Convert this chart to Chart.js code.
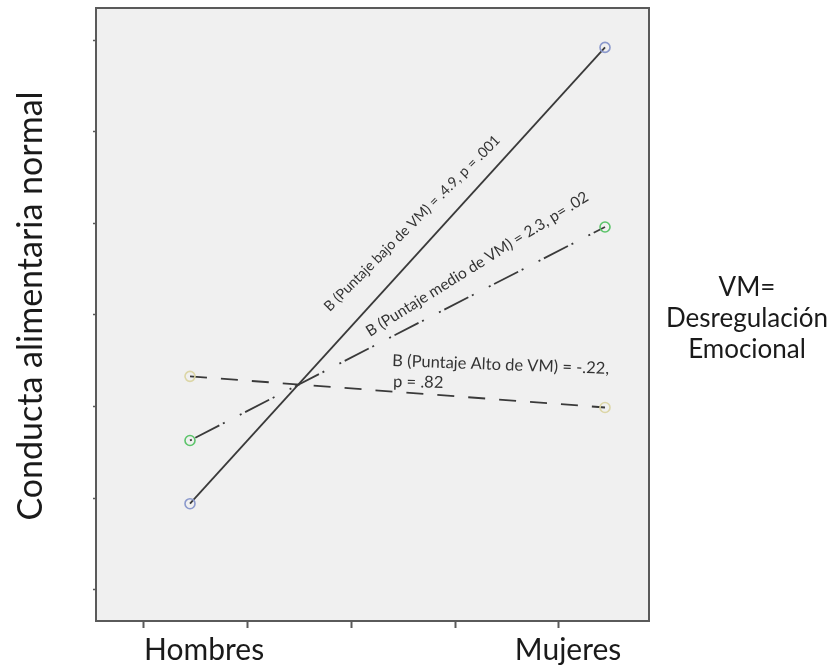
<!DOCTYPE html>
<html>
<head>
<meta charset="utf-8">
<script src="https://cdn.jsdelivr.net/npm/chart.js@4.4.1/dist/chart.umd.min.js"></script>
<style>
  html, body { margin: 0; padding: 0; background: #ffffff; }
  #wrap { width: 834px; height: 666px; }
</style>
</head>
<body>
<div id="wrap"><canvas id="c" width="834" height="666"></canvas></div>
<script>
// Groups on the horizontal axis and where each sits on the linear x scale
const sexes = ['Hombres', 'Mujeres'];
const sexPositions = [1, 2];
const sexLabelPositions = [1.034, 1.911];
const xTickMarks = [0.889, 1.139, 1.389, 1.639, 1.889];

// Mean "conducta alimentaria normal" per level of VM (Hombres, Mujeres)
const bajoVM = [9.94, 14.92];
const medioVM = [10.63, 12.96];
const altoVM = [11.33, 10.99];

// Unlabelled y tick marks
const yTickMarks = [9, 10, 11, 12, 13, 14, 15];

const points = vals => sexPositions.map((x, i) => ({ x, y: vals[i] }));

// Slope annotations, placed in data coordinates
const notes = [
  { text: 'B (Puntaje bajo de VM) = .4.9, p = .001', x: 1.337, y: 12.03, angle: -45, size: 14.3 },
  { text: 'B (Puntaje medio de VM) = 2.3, p= .02', x: 1.434, y: 11.76, angle: -32, size: 15.5 },
  { text: 'B (Puntaje Alto de VM) = -.22,', x: 1.487, y: 11.443, angle: 2.1, size: 16.5 },
  { text: 'p = .82', x: 1.489, y: 11.214, angle: 1, size: 16.5 }
];

const sideText = ['VM=', 'Desregulación', 'Emocional'];

const FONT = 'Lato, "Open Sans", sans-serif';

const plotBackground = {
  id: 'plotBackground',
  beforeDraw(chart) {
    const { ctx, chartArea: a } = chart;
    ctx.save();
    ctx.fillStyle = '#f0f0f0';
    ctx.fillRect(a.left, a.top, a.right - a.left, a.bottom - a.top);
    ctx.restore();
  },
  afterDraw(chart) {
    const { ctx, chartArea: a } = chart;
    ctx.save();
    ctx.strokeStyle = '#5a5a5a';
    ctx.lineWidth = 2;
    ctx.strokeRect(a.left, a.top, a.right - a.left, a.bottom - a.top);
    ctx.restore();
  }
};

const slopeNotes = {
  id: 'slopeNotes',
  afterDatasetsDraw(chart) {
    const { ctx } = chart;
    const xs = chart.scales.x, ys = chart.scales.y;
    ctx.save();
    ctx.fillStyle = '#333333';
    ctx.textBaseline = 'alphabetic';
    ctx.textAlign = 'left';
    notes.forEach(n => {
      ctx.save();
      ctx.translate(xs.getPixelForValue(n.x), ys.getPixelForValue(n.y));
      ctx.rotate(n.angle * Math.PI / 180);
      ctx.font = n.size + 'px ' + FONT;
      ctx.fillText(n.text, 0, 0);
      ctx.restore();
    });
    ctx.restore();
  }
};

const legendNote = {
  id: 'legendNote',
  afterDraw(chart) {
    const { ctx, chartArea: a } = chart;
    ctx.save();
    ctx.fillStyle = '#1a1a1a';
    ctx.font = '26px ' + FONT;
    ctx.textAlign = 'center';
    ctx.textBaseline = 'alphabetic';
    sideText.forEach((t, i) => ctx.fillText(t, a.right + 98, a.top + 288 + i * 31));
    ctx.restore();
  }
};

const lineStyle = {
  borderColor: '#3a3a3a',
  borderWidth: 1.8,
  pointRadius: 5,
  pointHoverRadius: 5,
  pointBorderWidth: 1.6,
  pointBackgroundColor: 'rgba(0,0,0,0)',
  showLine: true,
  fill: false,
  tension: 0
};

new Chart(document.getElementById('c'), {
  type: 'scatter',
  data: {
    datasets: [
      Object.assign({}, lineStyle, {
        label: 'Puntaje bajo de VM',
        data: points(bajoVM),
        pointBorderColor: '#8b99cc'
      }),
      Object.assign({}, lineStyle, {
        label: 'Puntaje medio de VM',
        data: points(medioVM),
        borderDash: [2, 4, 27, 4, 2, 17],
        pointBorderColor: '#5cc46a'
      }),
      Object.assign({}, lineStyle, {
        label: 'Puntaje Alto de VM',
        data: points(altoVM),
        borderDash: [17, 14],
        pointBorderColor: '#dcd6a6'
      })
    ]
  },
  options: {
    responsive: false,
    animation: false,
    devicePixelRatio: 1,
    layout: { padding: { top: 8, right: 185, bottom: 0, left: 0 } },
    plugins: {
      legend: { display: false },
      tooltip: { enabled: false }
    },
    scales: {
      x: {
        type: 'linear',
        min: 0.7735,
        max: 2.106,
        afterBuildTicks(scale) {
          scale.ticks = xTickMarks.concat(sexLabelPositions)
            .sort((a, b) => a - b)
            .map(v => ({ value: v }));
        },
        afterFit(scale) { scale.height = 45; },
        ticks: {
          autoSkip: false,
          maxRotation: 0,
          padding: 4,
          color: '#1a1a1a',
          font: { family: FONT, size: 30 },
          callback(v) {
            const i = sexLabelPositions.indexOf(v);
            return i >= 0 ? sexes[i] : '';
          }
        },
        grid: {
          drawOnChartArea: false,
          drawTicks: true,
          tickLength: 7,
          tickWidth: 2,
          tickColor: ctx => (ctx.tick && sexLabelPositions.includes(ctx.tick.value)) ? 'rgba(0,0,0,0)' : '#5a5a5a'
        },
        border: { display: false }
      },
      y: {
        type: 'linear',
        min: 8.66,
        max: 15.35,
        afterBuildTicks(scale) {
          scale.ticks = yTickMarks.map(v => ({ value: v }));
        },
        afterFit(scale) { scale.width = 96; },
        ticks: { display: false },
        grid: {
          drawOnChartArea: false,
          drawTicks: true,
          tickLength: 3,
          tickWidth: 1.5,
          tickColor: '#5a5a5a'
        },
        border: { display: false },
        title: {
          display: true,
          text: '\u2002Conducta alimentaria normal',
          color: '#1a1a1a',
          font: { family: FONT, size: 34 },
          padding: { top: 11, bottom: 0 }
        }
      }
    }
  },
  plugins: [plotBackground, slopeNotes, legendNote]
});
</script>
</body>
</html>
